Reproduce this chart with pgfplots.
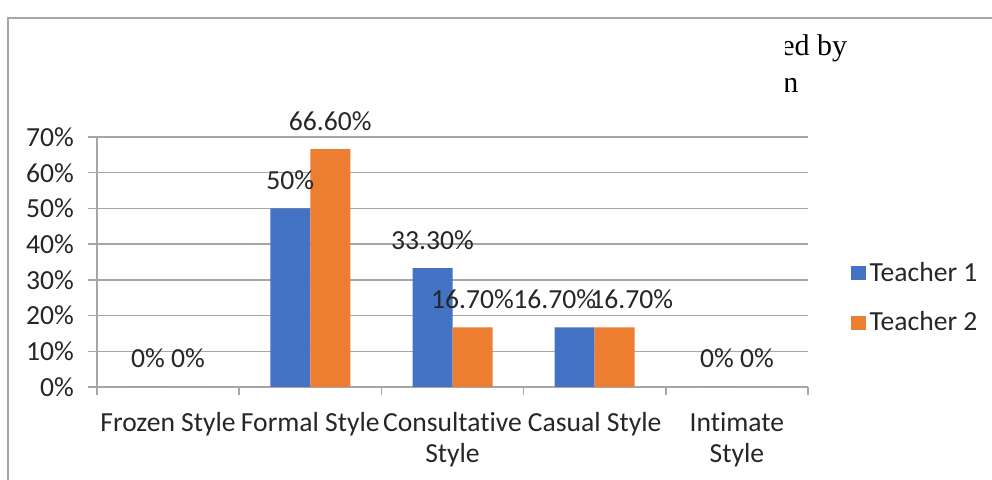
\documentclass[border=0pt]{standalone}
\usepackage{pgfplots}
\pgfplotsset{compat=1.18}
\usepackage{pgfplotstable}
\usepackage{fontspec}
\setmainfont{Carlito}[Ligatures=NoCommon]
\newfontfamily\seriffont{Liberation Serif}
\definecolor{tblue}{HTML}{4472C4}
\definecolor{torange}{HTML}{ED7D31}
\definecolor{gridc}{HTML}{A6A6A6}
\definecolor{txt}{HTML}{262626}

\pgfplotstableread{
x y lab dx
0 0 0 0
1 50 50 0
2 33.3 33.30 0
3 16.7 16.70 -10
4 0 0 0
}\tone
\pgfplotstableread{
x y lab dx
0 0 0 0
1 66.6 66.60 0
2 16.7 16.70 0
3 16.7 16.70 8.5
4 0 0 0
}\ttwo

\begin{document}
\begin{tikzpicture}[x=0.5pt,y=0.5pt]
\useasboundingbox (0,0) rectangle (992,480);
\draw[gridc, line width=0.75pt] (8,0) -- (8,462) -- (992,462);
\begin{scope}
\clip (785,370) rectangle (992,470);
\node[font=\seriffont\fontsize{15}{18}\selectfont, anchor=base west, inner sep=0pt, text=black] at (781,424) {ed by};
\node[font=\seriffont\fontsize{15}{18}\selectfont, anchor=base west, inner sep=0pt, text=black] at (783,387) {n};
\end{scope}
\begin{axis}[
  at={(48.5pt,46.5pt)}, anchor=south west,
  scale only axis, width=355.5pt, height=125pt,
  font=\fontsize{13.8}{15.5}\selectfont,
  xmin=-0.5, xmax=4.5, ymin=0, ymax=70,
  ybar=0pt, bar width=20pt,
  axis x line*=bottom, axis y line*=left,
  axis line style={gridc, line width=0.75pt, -},
  ytick={0,10,...,70},
  yticklabels={0\%,10\%,20\%,30\%,40\%,50\%,60\%,70\%},
  ymajorgrids, grid style={gridc, line width=0.75pt},
  xtick={0,...,4},
  xticklabels={Frozen Style, Formal Style, Consultative\\Style, Casual Style, Intimate\\Style},
  minor xtick={-0.5,0.5,...,4.5},
  tick align=outside,
  major tick length=4.5pt, minor tick length=4pt,
  major x tick style={draw=none},
  minor x tick style={gridc, line width=0.75pt},
  y tick style={gridc, line width=0.75pt},
  xticklabel style={align=center, text=txt, yshift=-4.5pt},
  yticklabel style={text=txt, xshift=-3.5pt},
  point meta=explicit symbolic,
  nodes near coords={\pgfplotspointmeta\%},
  visualization depends on={\thisrow{dx} \as \dx},
  nodes near coords style={anchor=base, yshift=9.5pt, xshift=\dx pt, text=txt, inner sep=0pt},
  legend style={draw=none, fill=none, at={(1.051,0.532)}, anchor=north west, row sep=9.5pt, text=txt},
  legend cell align=left,
  sq/.style={legend image code/.code={\fill[##1] (0pt,-3.5pt) rectangle (7.5pt,3.5pt);}},
]
\addplot[fill=tblue, draw=none, sq] table[x=x, y=y, meta=lab] {\tone};
\addplot[fill=torange, draw=none, sq] table[x=x, y=y, meta=lab] {\ttwo};
\legend{Teacher 1, Teacher 2}
\end{axis}
\end{tikzpicture}
\end{document}
